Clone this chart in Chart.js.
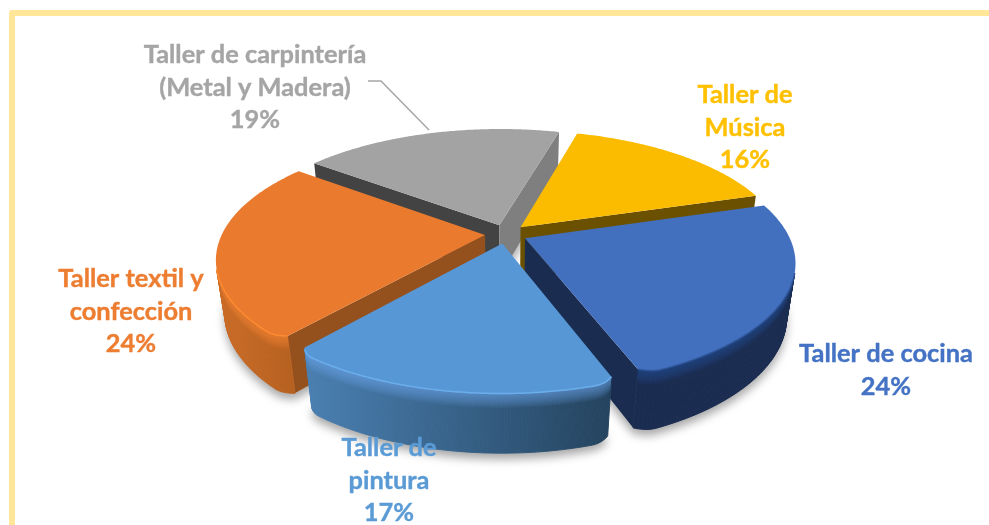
<!DOCTYPE html>
<html>
<head>
<meta charset="utf-8">
<title>Talleres</title>
<script src="https://cdn.jsdelivr.net/npm/chart.js@4"></script>
<style>
    html, body { margin: 0; padding: 0; background: #fff; overflow: hidden; }
    #Marco { position: absolute; left: 9px; top: 10px; width: 1100px; height: 600px; border: 6px solid #FFE699; border-radius: 3px; }
    #Grafico { position: absolute; left: 0; top: 0; }
</style>
</head>
<body>
<div id="Marco"></div>
<canvas id="Grafico" width="989" height="525"></canvas>
<script>
const TALLERES = [["Taller de", "Música"], ["Taller de cocina"], ["Taller de", "pintura"], ["Taller textil y", "confección"], ["Taller de carpintería", "(Metal y Madera)"]]
const VALORES = [16, 24, 17, 24, 19]
const COLORES = ["#FBBC00", "#4270BF", "#5797D5", "#EA7A2E", "#A3A3A3"]
const TEXTOS = ["#FFC000", "#4472C4", "#5B9BD5", "#ED7D31", "#A5A5A5"]
const CORTES = ["#6B5000", "#1A2C50", "#2A4D6E", "#94501D", "#434343"]
const CORTES_FIN = ["#6B5000", "#1A2C50", "#2A4D6E", "#94501D", "#7F7F7F"]
const BORDE_IZQ = ["#7F6000", "#1A2C50", "#4A80B2", "#CB6C28", "#7F7F7F"]
const BORDE_DER = ["#7F6000", "#1A2C50", "#24435E", "#B5601F", "#7F7F7F"]
const BRILLO = ["#FBBC00", "#2F5597", "#6DB0EE", "#FF8B33", "#A3A3A3"]
const ROTACION = 15.5

// centro y lineas base de cada etiqueta
const POS_ETIQUETAS = [[745, 103], [886, 362], [389, 456], [131, 287], [255, 63]]

// camara del pie 3D
const RADIO = 263
const INCLINACION = 0.447
const PERSPECTIVA = 0.19 / RADIO
const ALTO = 54
const FUGA = 0.03
const PASOS = 120
const REDONDEO = 0.03

function proyectar(c, X, Y, Z) {
    let w = 1 - PERSPECTIVA * Y + FUGA * Z
    return [c.x + X / w, c.y + (INCLINACION * Y + ALTO * Z) / w]
}

function trazar(ctx, puntos) {
    ctx.beginPath()
    puntos.forEach((p, i) => i == 0 ? ctx.moveTo(p[0], p[1]) : ctx.lineTo(p[0], p[1]))
    ctx.closePath()
}

// area con signo: negativa quiere decir que la cara mira a la camara
function mira(a, b, c, d) {
    let q = [a, b, c, d], s = 0
    for (let i = 0; i < 4; i++) {
        let n = q[(i + 1) % 4]
        s += q[i][0] * n[1] - n[0] * q[i][1]
    }
    return s < 0
}

// las esquinas de delante salen redondeadas, las de atras no
function radioEn(a, inicio, fin) {
    let margen = 4 * Math.PI / 180
    let d = Math.min(a - inicio, fin - a)
    if (d >= margen) return RADIO
    let esquina = d == a - inicio ? inicio : fin
    let peso = Math.max(0, Math.min(1, 0.2 + Math.sin(esquina)))
    let t = 1 - d / margen
    return RADIO * (1 - REDONDEO * peso * t * t)
}

function geometria(arc) {
    let s = RADIO / arc.outerRadius
    let medio = (arc.startAngle + arc.endAngle) / 2
    let ox = Math.cos(medio) * arc.options.offset * s
    let oy = Math.sin(medio) * arc.options.offset * s
    let sup = [], inf = []
    for (let i = 0; i <= PASOS; i++) {
        let a = arc.startAngle + (arc.endAngle - arc.startAngle) * i / PASOS
        let r = radioEn(a, arc.startAngle, arc.endAngle)
        let X = ox + r * Math.cos(a), Y = oy + r * Math.sin(a)
        sup.push(proyectar(arc, X, Y, 0))
        inf.push(proyectar(arc, X, Y, 1))
    }
    return { sup, inf, cs: proyectar(arc, ox, oy, 0), ci: proyectar(arc, ox, oy, 1), profundidad: oy + RADIO * 0.4 * Math.sin(medio) }
}

function mezcla(a, b, t) {
    return [a[0] + (b[0] - a[0]) * t, a[1] + (b[1] - a[1]) * t]
}

const pie3d = {
    id: "pie3d",
    beforeDatasetsDraw(chart) {
        let ctx = chart.ctx
        let arcos = chart.getDatasetMeta(0).data
        let orden = arcos.map((arc, i) => ({ i, g: geometria(arc) }))
        orden.sort((a, b) => a.g.profundidad - b.g.profundidad)

        // sombra suave debajo de todo
        ctx.save()
        ctx.shadowColor = "rgba(0,0,0,0.35)"
        ctx.shadowBlur = 10
        ctx.shadowOffsetY = 6
        ctx.fillStyle = "#ffffff"
        for (let { g } of orden) {
            trazar(ctx, [g.ci, ...g.inf])
            ctx.fill()
        }
        ctx.restore()

        for (let { i, g } of orden) {
            let { sup, inf, cs, ci } = g
            let ultimo = PASOS

            // caras de corte
            if (mira(cs, sup[0], inf[0], ci)) {
                trazar(ctx, [cs, sup[0], inf[0], ci])
                ctx.fillStyle = CORTES[i]
                ctx.fill()
            }
            if (mira(sup[ultimo], cs, ci, inf[ultimo])) {
                trazar(ctx, [sup[ultimo], cs, ci, inf[ultimo]])
                ctx.fillStyle = CORTES_FIN[i]
                ctx.fill()
            }

            // pared exterior
            let xs = sup.map(p => p[0])
            let grad = ctx.createLinearGradient(Math.min(...xs), 0, Math.max(...xs), 0)
            grad.addColorStop(0, BORDE_IZQ[i])
            grad.addColorStop(1, BORDE_DER[i])
            ctx.fillStyle = grad
            ctx.strokeStyle = grad
            ctx.lineWidth = 1
            for (let k = 0; k < PASOS; k++) {
                if (mira(sup[k], sup[k + 1], inf[k + 1], inf[k])) {
                    trazar(ctx, [sup[k], sup[k + 1], inf[k + 1], inf[k]])
                    ctx.fill()
                    ctx.stroke()
                }
            }

            // franja clara arriba de la pared, difuminada hacia abajo
            for (let paso = 1; paso <= 12; paso++) {
                ctx.save()
                ctx.globalAlpha = 0.07
                ctx.fillStyle = BRILLO[i]
                let ida = [], vuelta = []
                for (let k = 0; k <= PASOS; k++) {
                    if (k < PASOS && !mira(sup[k], sup[k + 1], inf[k + 1], inf[k])) continue
                    ida.push(sup[k])
                    vuelta.unshift(mezcla(sup[k], inf[k], paso * 0.02))
                }
                if (ida.length > 1) {
                    trazar(ctx, [...ida, ...vuelta])
                    ctx.fill()
                }
                ctx.restore()
            }

            // cara superior y canto
            trazar(ctx, [cs, ...sup])
            ctx.fillStyle = COLORES[i]
            ctx.fill()
            ctx.strokeStyle = BRILLO[i]
            ctx.lineWidth = 1.5
            for (let k = 0; k < PASOS; k++) {
                if (mira(sup[k], sup[k + 1], inf[k + 1], inf[k])) {
                    ctx.beginPath()
                    ctx.moveTo(sup[k][0], sup[k][1])
                    ctx.lineTo(sup[k + 1][0], sup[k + 1][1])
                    ctx.stroke()
                }
            }
        }
        return false
    },
    afterDraw(chart) {
        let ctx = chart.ctx
        ctx.save()

        // linea guia de carpinteria
        ctx.strokeStyle = "#A6A6A6"
        ctx.lineWidth = 1.5
        ctx.beginPath()
        ctx.moveTo(368, 81)
        ctx.lineTo(381, 81)
        ctx.lineTo(429, 130)
        ctx.stroke()

        ctx.font = "bold 25.4px Lato"
        ctx.textAlign = "center"
        ctx.textBaseline = "alphabetic"
        ctx.lineWidth = 0.4
        TALLERES.forEach((lineas, i) => {
            ctx.fillStyle = TEXTOS[i]
            ctx.strokeStyle = TEXTOS[i]
            let [x, y] = POS_ETIQUETAS[i]
            let todas = [...lineas, VALORES[i] + "%"]
            todas.forEach((t, n) => {
                ctx.fillText(t, x, y + n * 32.7)
                ctx.strokeText(t, x, y + n * 32.7)
            })
        })
        ctx.restore()
    }
}

new Chart(document.getElementById("Grafico"), {
    type: "pie",
    data: {
        labels: TALLERES,
        datasets: [{
            data: VALORES,
            backgroundColor: COLORES,
            borderWidth: 0,
            offset: 18
        }]
    },
    options: {
        responsive: false,
        animation: false,
        rotation: ROTACION,
        layout: { padding: { left: 23, bottom: 57 } },
        plugins: {
            legend: { display: false },
            tooltip: { enabled: false }
        }
    },
    plugins: [pie3d]
})
</script>
</body>
</html>
